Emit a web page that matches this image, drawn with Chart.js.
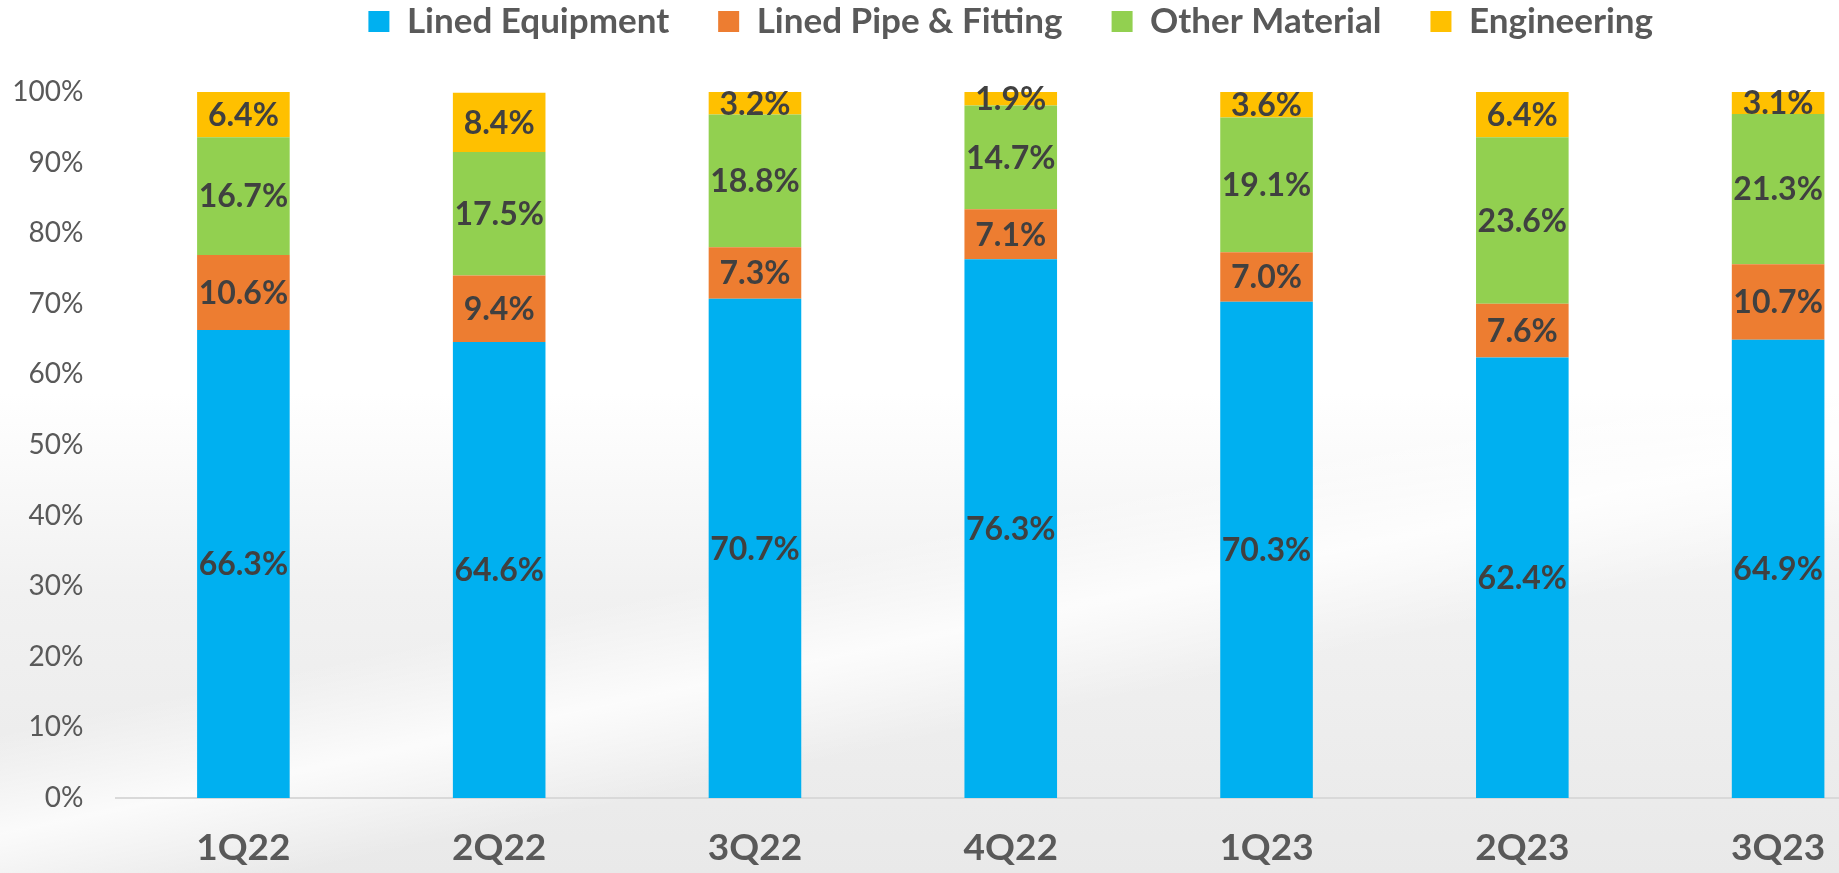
<!DOCTYPE html>
<html>
<head>
<meta charset="utf-8">
<script src="https://cdn.jsdelivr.net/npm/chart.js@4.4.1/dist/chart.umd.min.js"></script>
<style>
  html, body {
    margin: 0;
    padding: 0;
    width: 1839px;
    height: 873px;
    overflow: hidden;
    background:
      linear-gradient(168deg, rgba(255,255,255,0) 58%, rgba(255,255,255,0.8) 66%, rgba(255,255,255,0) 74%),
      linear-gradient(180deg, #ffffff 0%, #ffffff 45%, #f1f1f1 68%, #e9e9e9 100%);
  }
  #wrap { width: 1906px; height: 873px; }
</style>
</head>
<body>
<div id="wrap"><canvas id="mixChart" width="1906" height="873"></canvas></div>
<script>
/* ================================================
   Revenue mix by product line, quarterly
================================================ */

const quarters = ['1Q22', '2Q22', '3Q22', '4Q22', '1Q23', '2Q23', '3Q23'];
const linedEquipment = [66.3, 64.6, 70.7, 76.3, 70.3, 62.4, 64.9];
const linedPipe      = [10.6, 9.4, 7.3, 7.1, 7.0, 7.6, 10.7];
const otherMaterial  = [16.7, 17.5, 18.8, 14.7, 19.1, 23.6, 21.3];
const engineering    = [6.4, 8.4, 3.2, 1.9, 3.6, 6.4, 3.1];
const yTickLabels = ['0%', '10%', '20%', '30%', '40%', '50%', '60%', '70%', '80%', '90%', '100%'];

const FONT = 'Lato, "Open Sans", sans-serif';
const LEGEND_PAD = 49;
const TOP_OFFSET = -45;
const PLOT_TOP = 92;

// give the legend a fixed height so the plot starts where it should
const legendSpace = {
  id: 'legendSpace',
  afterInit(chart) {
    const legend = chart.legend;
    const fit = legend.fit;
    legend.fit = function () {
      fit.call(this);
      this.height = PLOT_TOP - TOP_OFFSET;
    };
  }
};

// percentage labels in the middle of each segment
const segmentLabels = {
  id: 'segmentLabels',
  afterDatasetsDraw(chart) {
    const ctx = chart.ctx;
    ctx.save();
    ctx.font = 'bold 32px ' + FONT;
    ctx.fillStyle = '#404040';
    ctx.textAlign = 'center';
    ctx.textBaseline = 'middle';
    chart.data.datasets.forEach((ds, di) => {
      const meta = chart.getDatasetMeta(di);
      meta.data.forEach((bar, i) => {
        const { x, y, base } = bar.getProps(['x', 'y', 'base'], true);
        ctx.fillText(ds.data[i].toFixed(1) + '%', x, (y + base) / 2 + 1);
      });
    });
    ctx.restore();
  }
};

function series(label, data, color) {
  return {
    label,
    data,
    backgroundColor: color,
    borderWidth: 0,
    categoryPercentage: 1,
    barPercentage: 0.362
  };
}

new Chart(document.getElementById('mixChart'), {
  type: 'bar',
  data: {
    labels: quarters,
    datasets: [
      series('Lined Equipment', linedEquipment, '#00B0F0'),
      series('Lined Pipe & Fitting', linedPipe, '#ED7D31'),
      series('Other Material', otherMaterial, '#92D050'),
      series('Engineering', engineering, '#FFC000')
    ]
  },
  options: {
    responsive: false,
    animation: false,
    layout: { padding: { top: TOP_OFFSET, left: 0, right: 0, bottom: 0 } },
    plugins: {
      tooltip: { enabled: false },
      legend: {
        position: 'top',
        fullSize: false,
        labels: {
          boxWidth: 21,
          boxHeight: 21,
          padding: LEGEND_PAD,
          color: '#595959',
          font: { family: FONT, size: 35, weight: 'bold' }
        }
      }
    },
    scales: {
      x: {
        stacked: true,
        grid: { display: false },
        border: { display: true, color: '#d9d9d9', width: 2 },
        ticks: {
          color: '#595959',
          padding: 20,
          font: { family: FONT, size: 37, weight: 'bold', lineHeight: 1.2 }
        },
        afterFit: (scale) => { scale.height = 75; }
      },
      y: {
        stacked: true,
        min: 0,
        max: 100,
        grid: { display: false },
        border: { display: false },
        ticks: {
          stepSize: 10,
          color: '#595959',
          padding: 24,
          font: { family: FONT, size: 28 },
          callback: (v, i) => yTickLabels[i]
        },
        afterFit: (scale) => { scale.width = 115.5; }
      }
    }
  },
  plugins: [legendSpace, segmentLabels]
});
</script>
</body>
</html>
